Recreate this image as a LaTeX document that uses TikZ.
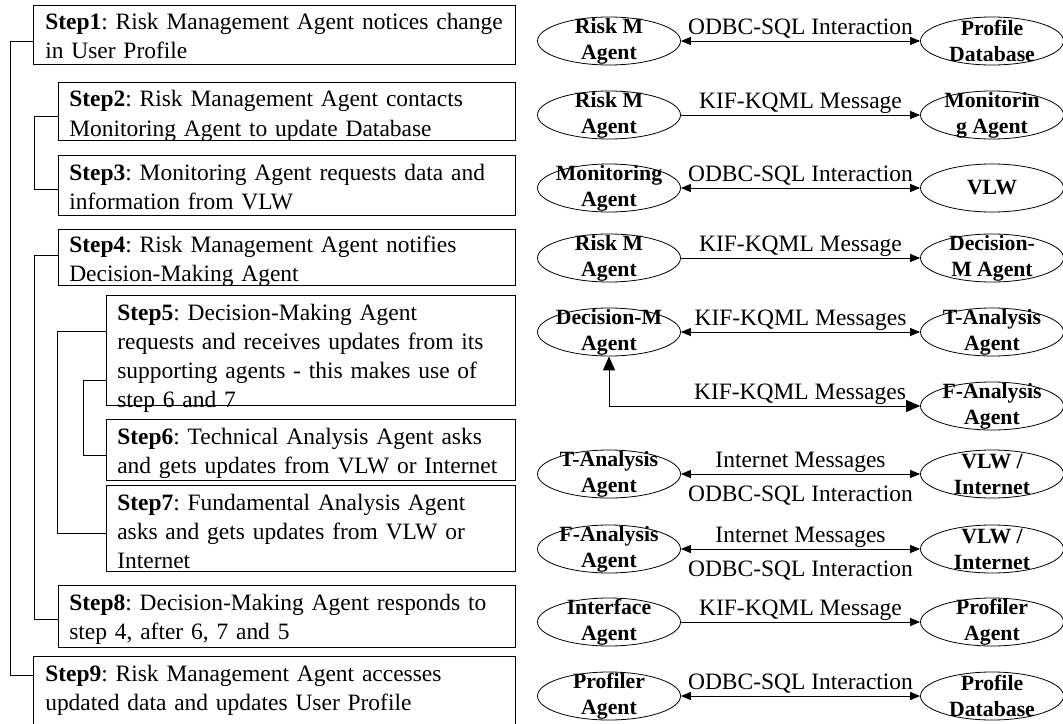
\documentclass[tikz,border=0pt]{standalone}
\usepackage{fontspec}
\setmainfont{Liberation Serif}
\usetikzlibrary{arrows.meta,shapes.geometric}
\newdimen\pxu \pxu=0.75pt
\frenchspacing
\begin{document}
\begin{tikzpicture}[x=0.75pt,y=-0.75pt,
  stepbox/.style={draw, line width=0.6pt, inner sep=0pt, anchor=north west},
  steptext/.style={anchor=base west, inner sep=0pt, text width=480\pxu, align=left,
    font=\frenchspacing\fontsize{17.6}{21.75}\selectfont},
  link/.style={line width=0.6pt},
  agent/.style={draw, ellipse, line width=0.6pt, inner sep=0pt,
    minimum width=143\pxu, minimum height=48\pxu},
  agtext/.style={inner sep=0pt, align=center, font=\bfseries\fontsize{16.3}{19.5}\selectfont},
  lbl/.style={inner sep=0pt, font=\frenchspacing\fontsize{17.6}{21.75}\selectfont},
  dbl/.style={line width=0.7pt, {Triangle[length=7.5pt,width=6pt]}-{Triangle[length=7.5pt,width=6pt]}},
  one/.style={line width=0.7pt, -{Triangle[length=7.5pt,width=6pt]}},
  bigdbl/.style={line width=0.7pt, {Triangle[length=10.5pt,width=9pt]}-{Triangle[length=10.5pt,width=9pt]}},
  above/.style={midway, anchor=base, yshift=5pt},
  below/.style={midway, anchor=base, yshift=-20.5pt}
]
\clip (0,0) rectangle (1063,724);
% ---------------- left: steps ----------------
\node[stepbox, minimum width=482\pxu, minimum height=59\pxu] (s1) at (33,5) {};
\node[stepbox, minimum width=457\pxu, minimum height=58\pxu] (s2) at (58,82) {};
\node[stepbox, minimum width=457\pxu, minimum height=60\pxu] (s3) at (58,155) {};
\node[stepbox, minimum width=457\pxu, minimum height=56\pxu] (s4) at (58,229) {};
\node[stepbox, minimum width=409\pxu, minimum height=110\pxu] (s5) at (106,295) {};
\node[stepbox, minimum width=409\pxu, minimum height=61\pxu] (s6) at (106,419) {};
\node[stepbox, minimum width=409\pxu, minimum height=86\pxu] (s7) at (106,485) {};
\node[stepbox, minimum width=457\pxu, minimum height=62\pxu] (s8) at (58,585) {};
\node[stepbox, minimum width=482\pxu, minimum height=90\pxu] (s9) at (33,656) {};

\node[steptext] (t1) at ([xshift=12\pxu,yshift=-25\pxu]s1.north west)
  {\textbf{Step1}: Risk Management Agent notices change\\in User Profile};
\node[steptext] (t2) at ([xshift=11\pxu,yshift=-25\pxu]s2.north west)
  {\textbf{Step2}: Risk Management Agent contacts\\Monitoring Agent to update Database};
\node[steptext] (t3) at ([xshift=11\pxu,yshift=-25\pxu]s3.north west)
  {\textbf{Step3}: Monitoring Agent requests data and\\information from VLW};
\node[steptext] (t4) at ([xshift=11\pxu,yshift=-23\pxu]s4.north west)
  {\textbf{Step4}: Risk Management Agent notifies\\Decision-Making Agent};
\node[steptext] (t5) at ([xshift=11\pxu,yshift=-25\pxu]s5.north west)
  {\textbf{Step5}: Decision-Making Agent\\requests and receives updates from its\\supporting agents - this makes use of\\step 6 and 7};
\node[steptext] (t6) at ([xshift=11\pxu,yshift=-25\pxu]s6.north west)
  {\textbf{Step6}: Technical Analysis Agent asks\\and gets updates from VLW or Internet};
\node[steptext] (t7) at ([xshift=11\pxu,yshift=-25\pxu]s7.north west)
  {\textbf{Step7}: Fundamental Analysis Agent\\asks and gets updates from VLW or\\Internet};
\node[steptext] (t8) at ([xshift=11\pxu,yshift=-25\pxu]s8.north west)
  {\textbf{Step8}: Decision-Making Agent responds to\\step 4, after 6, 7 and 5};
\node[steptext] (t9) at ([xshift=12\pxu,yshift=-25\pxu]s9.north west)
  {\textbf{Step9}: Risk Management Agent accesses\\updated data and updates User Profile};

% brackets
\draw[link] (s1.west |- 0,41) -- (10,41) -- (10,675) -- (s9.west |- 0,675);
\draw[link] (s2.west |- 0,116) -- (34,116) -- (34,189) -- (s3.west |- 0,189);
\draw[link] (s4.west |- 0,255) -- (34,255) -- (34,619) -- (s8.west |- 0,619);
\draw[link] (s5.west |- 0,331) -- (57,331) -- (57,533) -- (s7.west |- 0,533);
\draw[link] (s5.west |- 0,380) -- (83,380) -- (83,455) -- (s6.west |- 0,455);

% ---------------- right: agents ----------------
\node[agent] (a1l) at (609,41) {};  \node[agent] (a1r) at (992,41) {};
\node[agent] (a2l) at (609,115) {}; \node[agent] (a2r) at (992,115) {};
\node[agent] (a3l) at (609,188) {}; \node[agent] (a3r) at (992,188) {};
\node[agent] (a4l) at (609,258) {}; \node[agent] (a4r) at (992,258) {};
\node[agent] (a5l) at (609,332) {}; \node[agent] (a5r) at (992,332) {};
                                    \node[agent] (a6r) at (992,406) {};
\node[agent] (a7l) at (609,474) {}; \node[agent] (a7r) at (992,474) {};
\node[agent] (a8l) at (609,549) {}; \node[agent] (a8r) at (992,549) {};
\node[agent] (a9l) at (609,622) {}; \node[agent] (a9r) at (992,622) {};
\node[agent] (a10l) at (609,696) {}; \node[agent] (a10r) at (992,696) {};

\node[agtext] at (a1l) {Risk M\\Agent};          \node[agtext] at (a1r) {Profile\\Database};
\node[agtext] at (a2l) {Risk M\\Agent};          \node[agtext] at (a2r) {Monitorin\\g Agent};
\node[agtext] at (a3l) {Monitoring\\Agent};      \node[agtext] at (a3r) {VLW};
\node[agtext] at (a4l) {Risk M\\Agent};          \node[agtext] at (a4r) {Decision-\\M Agent};
\node[agtext] at (a5l) {Decision-M\\Agent};      \node[agtext] at (a5r) {T-Analysis\\Agent};
                                                  \node[agtext] at (a6r) {F-Analysis\\Agent};
\node[agtext] at (a7l) {T-Analysis\\Agent};      \node[agtext] at (a7r) {VLW /\\Internet};
\node[agtext] at (a8l) {F-Analysis\\Agent};      \node[agtext] at (a8r) {VLW /\\Internet};
\node[agtext] at (a9l) {Interface\\Agent};       \node[agtext] at (a9r) {Profiler\\Agent};
\node[agtext] at (a10l) {Profiler\\Agent};       \node[agtext] at (a10r) {Profile\\Database};

\draw[dbl] (a1l) -- node[lbl, above] {ODBC-SQL Interaction} (a1r);
\draw[one] (a2l) -- node[lbl, above] {KIF-KQML Message} (a2r);
\draw[dbl] (a3l) -- node[lbl, above] {ODBC-SQL Interaction} (a3r);
\draw[one] (a4l) -- node[lbl, above] {KIF-KQML Message} (a4r);
\draw[dbl] (a5l) -- node[lbl, above] {KIF-KQML Messages} (a5r);
\draw[bigdbl] (a5l.south) -- (a5l.south |- a6r.west) -- (a6r.west);
\node[lbl, anchor=base] (l6) at (800,399) {KIF-KQML Messages};
\draw[dbl] (a7l) -- node[lbl, above] {Internet Messages} node[lbl, below] {ODBC-SQL Interaction} (a7r);
\draw[dbl] (a8l) -- node[lbl, above] {Internet Messages} node[lbl, below] {ODBC-SQL Interaction} (a8r);
\draw[one] (a9l) -- node[lbl, above] {KIF-KQML Message} (a9r);
\draw[dbl] (a10l) -- node[lbl, above] {ODBC-SQL Interaction} (a10r);
\end{tikzpicture}
\end{document}
